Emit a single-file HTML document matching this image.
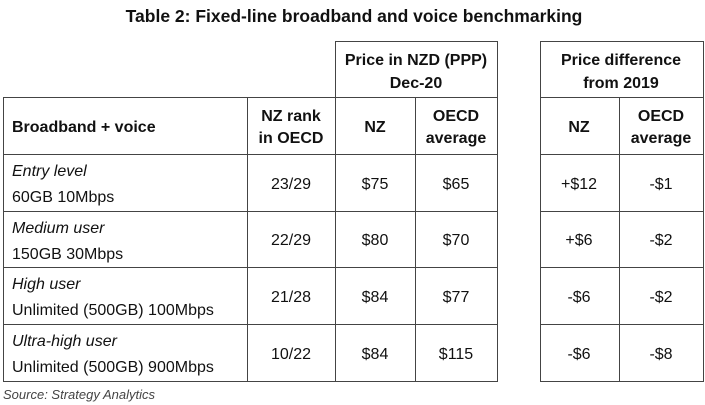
<!DOCTYPE html>
<html><head><style>
html,body{margin:0;padding:0;background:#fff;}
svg{display:block;}
text{font-family:"Liberation Sans",Arial,sans-serif;font-size:16px;fill:#111;}
.b{font-weight:bold;}
.i{font-style:italic;}
.c{text-anchor:middle;}
</style></head><body>
<svg width="705" height="405" viewBox="0 0 705 405">
<g stroke="#444" stroke-width="1.2" fill="none" shape-rendering="crispEdges">
<rect x="3.5" y="97.5" width="332" height="284"/>
<rect x="335.5" y="41.5" width="162" height="340"/>
<rect x="540.5" y="41.5" width="163" height="340"/>
<line x1="247.5" y1="97" x2="247.5" y2="381"/>
<line x1="415.5" y1="97" x2="415.5" y2="381"/>
<line x1="619.5" y1="97" x2="619.5" y2="381"/>
<line x1="335" y1="97.5" x2="497" y2="97.5"/>
<line x1="540" y1="97.5" x2="703" y2="97.5"/>
<line x1="3" y1="154.5" x2="497" y2="154.5"/><line x1="540" y1="154.5" x2="703" y2="154.5"/>
<line x1="3" y1="211.5" x2="497" y2="211.5"/><line x1="540" y1="211.5" x2="703" y2="211.5"/>
<line x1="3" y1="267.5" x2="497" y2="267.5"/><line x1="540" y1="267.5" x2="703" y2="267.5"/>
<line x1="3" y1="324.5" x2="497" y2="324.5"/><line x1="540" y1="324.5" x2="703" y2="324.5"/>
</g>
<text class="b c" x="354" y="22" style="font-size:17.5px">Table 2: Fixed-line broadband and voice benchmarking</text>
<text class="b c" x="416" y="65">Price in NZD (PPP)</text>
<text class="b c" x="416" y="88">Dec-20</text>
<text class="b c" x="621" y="65">Price difference</text>
<text class="b c" x="621" y="88">from 2019</text>
<text class="b" x="12" y="132">Broadband + voice</text>
<text class="b c" x="291" y="121">NZ rank</text>
<text class="b c" x="291" y="143">in OECD</text>
<text class="b c" x="375" y="132">NZ</text>
<text class="b c" x="456" y="121">OECD</text>
<text class="b c" x="456" y="143">average</text>
<text class="b c" x="579" y="132">NZ</text>
<text class="b c" x="661" y="121">OECD</text>
<text class="b c" x="661" y="143">average</text>

<text class="i" x="12" y="176">Entry level</text>
<text x="12" y="202">60GB 10Mbps</text>
<text class="c" x="291" y="189">23/29</text><text class="c" x="375" y="189">$75</text><text class="c" x="456" y="189">$65</text>
<text class="c" x="579" y="189">+$12</text><text class="c" x="661" y="189">-$1</text>

<text class="i" x="12" y="233">Medium user</text>
<text x="12" y="259">150GB 30Mbps</text>
<text class="c" x="291" y="245">22/29</text><text class="c" x="375" y="245">$80</text><text class="c" x="456" y="245">$70</text>
<text class="c" x="579" y="245">+$6</text><text class="c" x="661" y="245">-$2</text>

<text class="i" x="12" y="289">High user</text>
<text x="12" y="315">Unlimited (500GB) 100Mbps</text>
<text class="c" x="291" y="302">21/28</text><text class="c" x="375" y="302">$84</text><text class="c" x="456" y="302">$77</text>
<text class="c" x="579" y="302">-$6</text><text class="c" x="661" y="302">-$2</text>

<text class="i" x="12" y="346">Ultra-high user</text>
<text x="12" y="372">Unlimited (500GB) 900Mbps</text>
<text class="c" x="291" y="359">10/22</text><text class="c" x="375" y="359">$84</text><text class="c" x="456" y="359">$115</text>
<text class="c" x="579" y="359">-$6</text><text class="c" x="661" y="359">-$8</text>

<text class="i" x="3" y="399" style="font-size:13px;fill:#444">Source: Strategy Analytics</text>
</svg>
</body></html>
